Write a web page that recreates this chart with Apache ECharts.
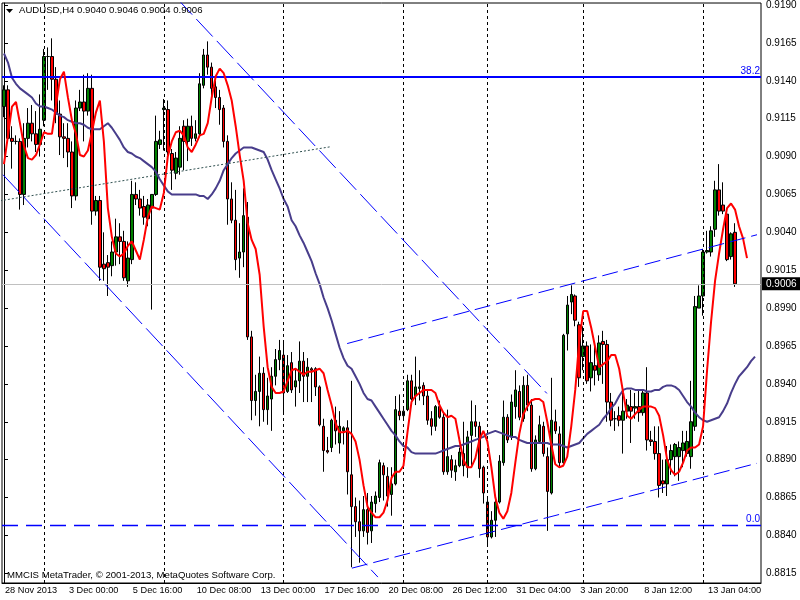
<!DOCTYPE html>
<html><head><meta charset="utf-8">
<script src="https://cdn.jsdelivr.net/npm/echarts@6/dist/echarts.min.js"></script>
<style>html,body{margin:0;padding:0;background:#fff}#c{width:800px;height:600px}</style>
</head><body><div id="c"></div>
<script>
// ---- data (AUDUSD H4) ----
const openP = [.9123,.9134,.9102,.9100,.9100,.9065,.9102,.9112,.9105,.9098,
.9114,.9156,.9156,.9141,.9118,.9103,.9102,.9093,.9064,.9122,
.9126,.9120,.9135,.9054,.9061,.9019,.9020,.9018,.9027,.9037,
.9034,.9008,.9022,.9065,.9062,.9057,.9049,.9056,.9065,.9098,
.9121,.9121,.9092,.9079,.9083,.9110,.9100,.9110,.9102,.9105,
.9137,.9157,.9149,.9136,.9129,.9122,.9100,.9062,.9048,.9023,
.9027,.9050,.8971,.8929,.8935,.8947,.8923,.8930,.8945,.8956,
.8959,.8935,.8954,.8938,.8942,.8955,.8945,.8950,.8950,.8938,
.8912,.8896,.8898,.8916,.8901,.8909,.8911,.8880,.8859,.8849,
.8843,.8857,.8843,.8861,.8865,.8886,.8879,.8867,.8874,.8922,
.8919,.8923,.8942,.8932,.8937,.8939,.8932,.8917,.8912,.8925,
.8918,.8882,.8890,.8882,.8886,.8894,.8885,.8906,.8915,.8912,
.8885,.8862,.8839,.8850,.8862,.8888,.8918,.8905,.8925,.8935,
.8917,.8939,.8926,.8884,.8902,.8912,.8892,.8868,.8915,.8907,
.8888,.8973,.8994,.8998,.8979,.8958,.8965,.8944,.8952,.8946,
.8968,.8966,.8928,.8917,.8919,.8916,.8922,.8925,.8924,.8925,
.8921,.8934,.8903,.8902,.8894,.8876,.8874,.8890,.8892,.8892,
.8896,.8894,.8892,.8912,.8990,.8998,.9027,.9027,.9042,.9068,
.9058,.9052,.9024,.9040];
const closeP = [.9134,.9102,.9100,.9100,.9065,.9102,.9112,.9105,.9098,.9108,
.9156,.9156,.9141,.9118,.9103,.9102,.9093,.9064,.9122,.9126,
.9120,.9135,.9054,.9061,.9017,.9016,.9017,.9027,.9037,.9034,
.9010,.9023,.9065,.9062,.9056,.9050,.9058,.9065,.9100,.9101,
.9122,.9093,.9081,.9089,.9102,.9100,.9110,.9102,.9105,.9138,
.9157,.9149,.9135,.9129,.9121,.9100,.9062,.9048,.9022,.9027,
.9051,.8971,.8929,.8935,.8947,.8923,.8932,.8945,.8956,.8962,
.8934,.8952,.8936,.8942,.8955,.8945,.8951,.8949,.8938,.8913,
.8896,.8895,.8916,.8909,.8912,.8911,.8882,.8859,.8849,.8843,
.8857,.8842,.8862,.8866,.8888,.8880,.8866,.8874,.8923,.8919,
.8922,.8942,.8930,.8938,.8938,.8932,.8916,.8912,.8925,.8918,
.8882,.8892,.8883,.8886,.8895,.8886,.8905,.8915,.8912,.8884,
.8868,.8839,.8850,.8862,.8889,.8918,.8903,.8928,.8936,.8918,
.8939,.8926,.8884,.8903,.8913,.8894,.8869,.8916,.8909,.8888,
.8972,.8992,.8999,.8982,.8944,.8965,.8942,.8954,.8949,.8967,
.8966,.8928,.8916,.8917,.8916,.8922,.8926,.8922,.8925,.8921,
.8934,.8903,.8902,.8894,.8873,.8874,.8890,.8896,.8900,.8898,
.8901,.8902,.8915,.8991,.8998,.9027,.9028,.9041,.9068,.9054,
.9054,.9022,.9039,.9006];
const highP = [.9137,.9137,.9110,.9104,.9102,.9112,.9122,.9124,.9120,.9131,
.9161,.9162,.9168,.9149,.9127,.9112,.9112,.9100,.9127,.9134,
.9144,.9145,.9144,.9064,.9064,.9040,.9025,.9034,.9049,.9046,
.9041,.9034,.9074,.9073,.9068,.9064,.9062,.9065,.9117,.9107,
.9128,.9127,.9095,.9093,.9110,.9114,.9115,.9117,.9114,.9145,
.9161,.9166,.9152,.9140,.9134,.9124,.9104,.9073,.9068,.9046,
.9069,.9060,.8975,.8946,.8958,.8951,.8944,.8951,.8963,.8969,
.8967,.8959,.8961,.8950,.8968,.8961,.8957,.8951,.8951,.8939,
.8917,.8905,.8917,.8925,.8922,.8912,.8916,.8942,.8865,.8863,
.8866,.8868,.8866,.8869,.8890,.8888,.8885,.8885,.8932,.8933,
.8925,.8946,.8946,.8958,.8949,.8941,.8936,.8922,.8926,.8929,
.8921,.8923,.8893,.8890,.8898,.8915,.8909,.8929,.8926,.8915,
.8886,.8866,.8856,.8865,.8893,.8929,.8920,.8933,.8949,.8939,
.8945,.8946,.8930,.8906,.8919,.8915,.8898,.8944,.8923,.8912,
.8973,.8998,.9005,.8999,.8981,.8978,.8968,.8966,.8966,.8972,
.8975,.8969,.8934,.8922,.8925,.8934,.8930,.8936,.8934,.8936,
.8936,.8951,.8909,.8912,.8912,.8890,.8899,.8900,.8901,.8902,
.8909,.8909,.8942,.8998,.9005,.9029,.9041,.9044,.9074,.9085,
.9073,.9054,.9040,.9046];
const lowP = [.9116,.9100,.9082,.9098,.9055,.9058,.9096,.9100,.9093,.9090,
.9110,.9134,.9127,.9112,.9091,.9089,.9083,.9056,.9061,.9120,
.9100,.9117,.9045,.9051,.9008,.9008,.8998,.9011,.9018,.9019,
.9008,.9004,.9019,.9058,.9051,.9045,.9044,.8989,.9064,.9095,
.9094,.9091,.9068,.9075,.9078,.9081,.9087,.9097,.9100,.9104,
.9135,.9144,.9129,.9122,.9111,.9096,.9045,.9046,.9015,.9010,
.9017,.8969,.8916,.8919,.8912,.8915,.8913,.8909,.8939,.8949,
.8921,.8934,.8934,.8925,.8934,.8928,.8928,.8928,.8932,.8912,
.8882,.8894,.8895,.8900,.8894,.8900,.8867,.8819,.8839,.8822,
.8839,.8834,.8835,.8855,.8862,.8863,.8859,.8853,.8873,.8916,
.8917,.8922,.8929,.8926,.8929,.8926,.8913,.8906,.8909,.8917,
.8880,.8880,.8878,.8876,.8885,.8879,.8878,.8885,.8905,.8878,
.8861,.8833,.8838,.8839,.8861,.8886,.8901,.8903,.8917,.8916,
.8915,.8922,.8882,.8883,.8901,.8892,.8843,.8867,.8907,.8885,
.8886,.8962,.8986,.8978,.8938,.8949,.8940,.8935,.8939,.8942,
.8940,.8915,.8912,.8909,.8912,.8894,.8917,.8901,.8917,.8915,
.8919,.8896,.8899,.8890,.8865,.8868,.8866,.8880,.8879,.8876,
.8885,.8892,.8884,.8909,.8990,.8985,.9026,.9024,.9037,.9051,
.9052,.9021,.9022,.9004];
// fast moving average (red), one value per bar, runs 3 bars past the last candle
const fastMA = [.9085,.9104,.9123,.9126,.9112,.9097,.9089,.9088,.9091,.9098,
.9106,.9105,.9105,.9124,.9141,.9146,.9129,.9114,.9105,.9091,
.9090,.9094,.9106,.9119,.9127,.9100,.9056,.9037,.9026,.9024,
.9026,.9031,.9034,.9028,.9022,.9035,.9050,.9057,.9056,.9055,
.9066,.9090,.9100,.9106,.9107,.9104,.9096,.9093,.9098,.9104,
.9105,.9112,.9129,.9143,.9148,.9145,.9137,.9127,.9110,.9091,
.9074,.9046,.9035,.9029,.9012,.8978,.8951,.8938,.8934,.8934,
.8935,.8942,.8949,.8950,.8948,.8946,.8948,.8948,.8949,.8950,
.8947,.8936,.8926,.8914,.8908,.8908,.8909,.8907,.8902,.8890,
.8873,.8859,.8855,.8852,.8852,.8855,.8863,.8878,.8882,.8882,
.8886,.8908,.8928,.8932,.8934,.8936,.8936,.8936,.8934,.8926,
.8921,.8918,.8919,.8917,.8903,.8890,.8885,.8885,.8891,.8903,
.8909,.8902,.8885,.8865,.8855,.8851,.8856,.8868,.8888,.8907,
.8920,.8925,.8929,.8930,.8930,.8928,.8915,.8900,.8887,.8885,
.8886,.8892,.8912,.8936,.8968,.8988,.8988,.8977,.8964,.8951,
.8953,.8955,.8959,.8959,.8950,.8934,.8919,.8917,.8920,.8923,
.8925,.8925,.8925,.8924,.8919,.8906,.8890,.8883,.8880,.8882,
.8888,.8896,.8898,.8898,.8900,.8912,.8949,.8981,.9008,.9026,
.9042,.9056,.9059,.9055,.9044,.9036,.9023];
// slow moving average (dark slate blue)
const slowMA = [.9158,.9152,.9142,.9138,.9135,.9133,.9131,.9129,.9125,.9123,
.9123,.9122,.9121,.9119,.9117,.9116,.9114,.9113,.9112,.9112,
.9111,.9109,.9108,.9108,.9108,.9110,.9112,.9109,.9105,.9101,
.9096,.9093,.9092,.9090,.9089,.9087,.9085,.9083,.9080,.9075,
.9071,.9067,.9065,.9065,.9065,.9065,.9065,.9065,.9065,.9064,
.9064,.9062,.9065,.9069,.9074,.9081,.9085,.9089,.9092,.9094,
.9096,.9096,.9096,.9095,.9094,.9093,.9088,.9081,.9075,.9069,
.9062,.9057,.9048,.9044,.9038,.9033,.9027,.9021,.9013,.9006,
.8997,.8990,.8982,.8973,.8964,.8957,.8952,.8950,.8945,.8940,
.8934,.8930,.8929,.8925,.8921,.8917,.8913,.8909,.8906,.8902,
.8899,.8898,.8895,.8894,.8894,.8894,.8894,.8894,.8894,.8895,
.8896,.8897,.8898,.8899,.8899,.8900,.8901,.8902,.8903,.8904,
.8905,.8907,.8908,.8909,.8908,.8907,.8906,.8905,.8905,.8903,
.8902,.8901,.8901,.8901,.8901,.8901,.8901,.8900,.8900,.8900,
.8899,.8898,.8899,.8900,.8901,.8904,.8907,.8909,.8911,.8913,
.8917,.8920,.8924,.8927,.8932,.8936,.8937,.8937,.8936,.8936,
.8936,.8935,.8935,.8936,.8936,.8938,.8939,.8939,.8938,.8936,
.8932,.8928,.8925,.8921,.8918,.8916,.8915,.8916,.8917,.8918,
.8922,.8927,.8934,.8940,.8945,.8948,.8951,.8955,.8958];
const xLabels = ['28 Nov 2013','3 Dec 00:00','5 Dec 16:00','10 Dec 08:00','13 Dec 00:00','17 Dec 16:00',
  '20 Dec 08:00','26 Dec 12:00','31 Dec 04:00','3 Jan 20:00','8 Jan 12:00','13 Jan 04:00'];
const yTicks = [0.8815,0.8840,0.8865,0.8890,0.8915,0.8940,0.8965,0.8990,0.9015,0.9040,0.9065,0.9090,0.9115,0.9140,0.9165,0.9190];
const weekStartBars = [10,40,70,100,121,145,175];
const lastPrice = 0.9006;
const fibLevel382 = 0.91425;
const fibLevel0 = 0.88467;
// trend lines: [barIndex, price]
const downChannelUpper = [[43,0.91952],[135.9,0.89337]];
const downChannelLower = [[-0.25,0.90780],[93.6,0.88125]];
const upChannelUpper = [[85.9,0.89666],[188.5,0.90384]];
const upChannelLower = [[87.1,0.88184],[188.5,0.88876]];
const dottedTrend = [[-1.0,0.90608],[81.6,0.90964]];
const titleText = 'AUDUSD,H4 0.9040 0.9046 0.9004 0.9006';
const copyrightText = 'MMCIS MetaTrader, \u00A9 2001-2013, MetaQuotes Software Corp.';

// ---- chart ----
const NCAT = 190;
const cats = Array.from({length: NCAT}, (_, i) => String(i));
const FONT = '"Liberation Sans", Arial, sans-serif';
const chart = echarts.init(document.getElementById('c'));
const trend = (data, type, color) => ({
  type: 'line', xAxisIndex: 1, yAxisIndex: 0, data, showSymbol: false, silent: true, z: 6,
  lineStyle: {color, width: 1, type}, clip: true
});
chart.setOption({
  animation: false,
  backgroundColor: '#fff',
  grid: {left: 2, top: 2, right: 39, bottom: 17, show: true, borderColor: '#000', borderWidth: 1, backgroundColor: '#fff'},
  xAxis: [{
    type: 'category', data: cats, boundaryGap: true,
    axisLine: {lineStyle: {color: '#000'}},
    axisTick: {interval: 15, alignWithLabel: true, length: 4, lineStyle: {color: '#000'}},
    axisLabel: {interval: 15, align: 'left', margin: 3, padding: [0, 0, 0, 1], color: '#000', fontSize: 9.2, fontFamily: FONT,
      formatter: (v, i) => (i % 16 === 0 && xLabels[i / 16]) ? xLabels[i / 16] : ''},
    splitLine: {show: false}
  }, {
    type: 'value', min: -0.5, max: NCAT - 0.5, show: false
  }],
  yAxis: [{
    type: 'value', position: 'right', min: 0.88086, max: 0.91913, scale: true,
    splitLine: {show: false},
    axisLine: {show: true, lineStyle: {color: '#000'}},
    axisTick: {show: true, length: 4, customValues: yTicks, lineStyle: {color: '#000'}},
    axisLabel: {customValues: yTicks, formatter: v => v.toFixed(4), color: '#000', fontSize: 10, fontFamily: FONT, margin: 5}
  }],
  graphic: [
    {type: 'polygon', shape: {points: [[6, 9], [13, 9], [9.5, 13]]}, style: {fill: '#000'}, z: 50},
    {type: 'text', left: 19, top: 5, style: {text: titleText, fill: '#000', font: '9.6px ' + FONT}, z: 50},
    {type: 'text', left: 7, top: 570, style: {text: copyrightText, fill: '#000', font: '9.6px ' + FONT}, z: 50}
  ],
  series: [
    {
      type: 'line', xAxisIndex: 1, data: [], silent: true, z: 1,
      markLine: {
        symbol: 'none', silent: true, animation: false, precision: 6,
        lineStyle: {color: '#0000ff', width: 1},
        data: [
          ...weekStartBars.map(b => ({xAxis: b, lineStyle: {color: '#000', type: [3, 3], width: 1}, label: {show: false}})),
          {yAxis: lastPrice, lineStyle: {color: '#c0c0c0', type: 'solid', width: 1},
            label: {show: true, position: 'end', distance: 1, formatter: lastPrice.toFixed(4), color: '#fff', backgroundColor: '#000', padding: [2, 4, 1, 4], fontSize: 10, fontFamily: FONT}},
          {yAxis: fibLevel382, lineStyle: {color: '#0000ff', type: 'solid', width: 2},
            label: {show: true, position: 'insideEndTop', distance: 1, formatter: '38.2', color: '#0000ff', fontSize: 10, fontFamily: FONT}},
          {yAxis: fibLevel0, lineStyle: {color: '#0000ff', type: [16, 8], width: 1.3},
            label: {show: true, position: 'insideEndTop', distance: 1, formatter: '0.0', color: '#0000ff', fontSize: 10, fontFamily: FONT}}
        ]
      }
    },
    {
      type: 'candlestick', xAxisIndex: 0, yAxisIndex: 0, z: 3, barWidth: 3,
      data: openP.map((o, i) => [o, closeP[i], lowP[i], highP[i]]),
      itemStyle: {color: '#008000', color0: '#ff0000', borderColor: '#000', borderColor0: '#000', borderColorDoji: '#000', borderWidth: 1}
    },
    {type: 'line', xAxisIndex: 1, yAxisIndex: 0, data: slowMA.map((v, i) => [i, v]), showSymbol: false, silent: true, z: 4,
      lineStyle: {color: '#483d8b', width: 2}},
    {type: 'line', xAxisIndex: 1, yAxisIndex: 0, data: fastMA.map((v, i) => [i, v]), showSymbol: false, silent: true, z: 5,
      lineStyle: {color: '#ff0000', width: 2}},
    trend(downChannelUpper, [24, 6], '#0000ff'),
    trend(downChannelLower, [24, 6], '#0000ff'),
    trend(upChannelUpper, [16, 6], '#0000ff'),
    trend(upChannelLower, [16, 6], '#0000ff'),
    trend(dottedTrend, [2, 2], '#2f4f4f')
  ]
});
</script></body></html>
